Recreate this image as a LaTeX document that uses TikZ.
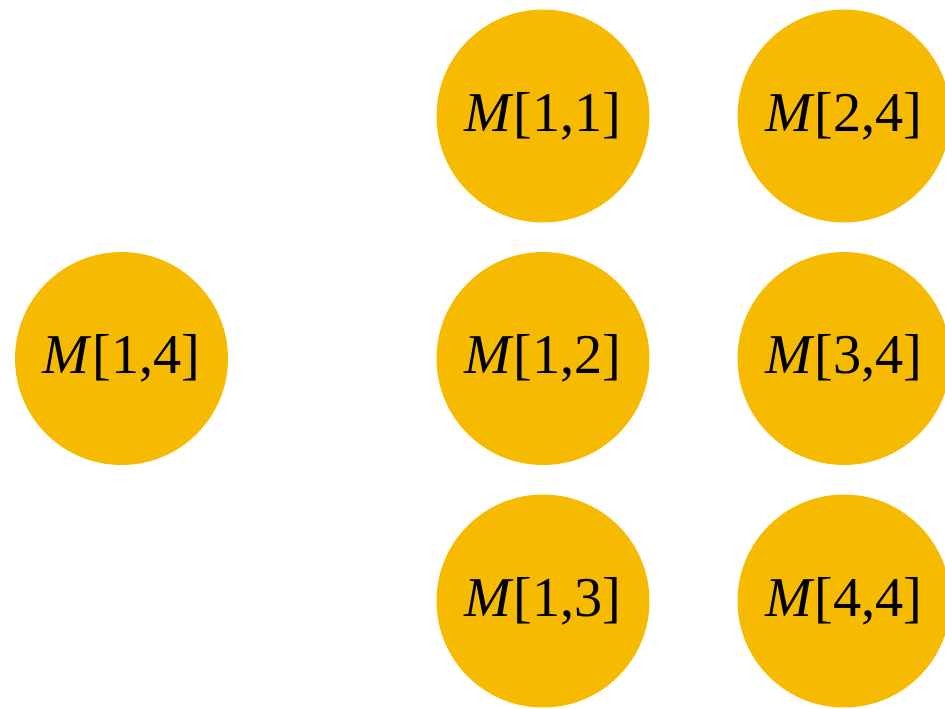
\documentclass[tikz,border=0pt]{standalone}
\usepackage{fontspec}
\setmainfont{Liberation Serif}
\usepackage{xcolor}
\usepackage{tikz}
\usetikzlibrary{positioning, calc}
\definecolor{cellgold}{RGB}{246,186,0}

\begin{document}
\begin{tikzpicture}[
            cell/.style={circle, fill=cellgold, draw=none, minimum size=4.26cm, inner sep=0pt, font=\fontsize{32}{38}\selectfont},
            x=0.02cm, y=-0.02cm
        ]
        \useasboundingbox (0,0) rectangle (945,708);
        % Left cell
        \node[cell] (L4) at (121.5,358.5) {\textit{M}[1,4]};
        
        % Middle column
        \foreach \i/\ypos in {1/116, 2/358.5, 3/601}
            \node[cell] (C\i) at (543,\ypos) {\textit{M}[1,\i]};
        
        % Right column
        \foreach \i/\ypos in {2/116, 3/358.5, 4/601}
            \node[cell] (R\i) at (844,\ypos) {\textit{M}[\i,4]};
        \end{tikzpicture}
\end{document}
